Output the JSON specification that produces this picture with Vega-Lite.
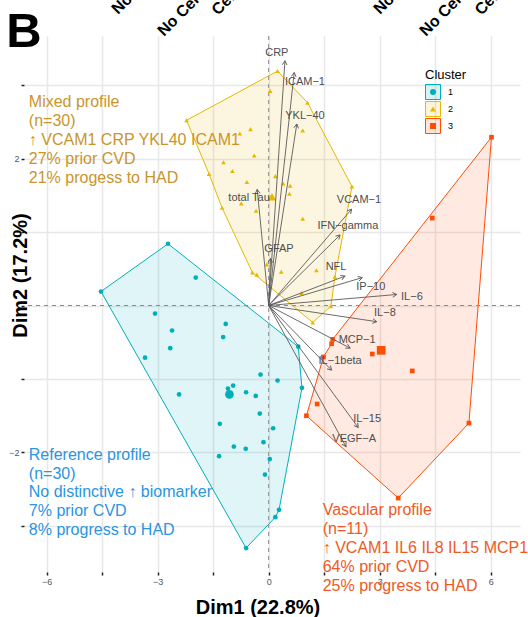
{
  "$schema": "https://vega.github.io/schema/vega-lite/v6.json",
  "width": 496,
  "height": 536,
  "autosize": "none",
  "padding": {"left": 24, "top": 36, "right": 8, "bottom": 45},
  "background": "white",
  "config": {"view": {"stroke": null}, "font": "Liberation Sans"},
  "datasets": {
    "one": [{"v": 0}],
    "pts": [
      {"cluster":"1","kind":"obs","x":-2.72,"y":0.84},
      {"cluster":"1","kind":"obs","x":-4.53,"y":0.19},
      {"cluster":"1","kind":"obs","x":-1.97,"y":0.38},
      {"cluster":"1","kind":"obs","x":-3.07,"y":-0.11},
      {"cluster":"1","kind":"obs","x":-2.61,"y":-0.34},
      {"cluster":"1","kind":"obs","x":-2.66,"y":-0.58},
      {"cluster":"1","kind":"obs","x":-3.34,"y":-0.71},
      {"cluster":"1","kind":"obs","x":-1.16,"y":-0.25},
      {"cluster":"1","kind":"obs","x":-1.23,"y":-0.43},
      {"cluster":"1","kind":"obs","x":0.80,"y":-0.56},
      {"cluster":"1","kind":"obs","x":0.90,"y":-1.12},
      {"cluster":"1","kind":"obs","x":-0.22,"y":-0.94},
      {"cluster":"1","kind":"obs","x":0.24,"y":-1.02},
      {"cluster":"1","kind":"obs","x":-1.10,"y":-1.13},
      {"cluster":"1","kind":"obs","x":-0.96,"y":-1.09},
      {"cluster":"1","kind":"obs","x":-0.61,"y":-1.18},
      {"cluster":"1","kind":"obs","x":-0.35,"y":-1.23},
      {"cluster":"1","kind":"obs","x":-2.42,"y":-1.21},
      {"cluster":"1","kind":"obs","x":-0.24,"y":-1.47},
      {"cluster":"1","kind":"obs","x":-1.32,"y":-1.61},
      {"cluster":"1","kind":"obs","x":0.12,"y":-1.67},
      {"cluster":"1","kind":"obs","x":-0.14,"y":-1.86},
      {"cluster":"1","kind":"obs","x":-0.94,"y":-1.92},
      {"cluster":"1","kind":"obs","x":-0.62,"y":-1.95},
      {"cluster":"1","kind":"obs","x":-1.34,"y":-2.05},
      {"cluster":"1","kind":"obs","x":0.03,"y":-2.09},
      {"cluster":"1","kind":"obs","x":-0.10,"y":-2.30},
      {"cluster":"1","kind":"obs","x":0.28,"y":-2.78},
      {"cluster":"1","kind":"obs","x":0.18,"y":-2.88},
      {"cluster":"1","kind":"obs","x":-0.61,"y":-3.30},
      {"cluster":"1","kind":"centroid","x":-1.06,"y":-1.21},
      {"cluster":"2","kind":"obs","x":0.24,"y":3.19},
      {"cluster":"2","kind":"obs","x":0.04,"y":2.92},
      {"cluster":"2","kind":"obs","x":1.05,"y":2.76},
      {"cluster":"2","kind":"obs","x":-2.22,"y":2.52},
      {"cluster":"2","kind":"obs","x":-0.49,"y":2.40},
      {"cluster":"2","kind":"obs","x":-0.78,"y":2.34},
      {"cluster":"2","kind":"obs","x":0.92,"y":2.38},
      {"cluster":"2","kind":"obs","x":-0.39,"y":2.04},
      {"cluster":"2","kind":"obs","x":-1.22,"y":1.95},
      {"cluster":"2","kind":"obs","x":-0.98,"y":1.83},
      {"cluster":"2","kind":"obs","x":-1.61,"y":1.79},
      {"cluster":"2","kind":"obs","x":0.18,"y":1.76},
      {"cluster":"2","kind":"obs","x":-0.59,"y":1.68},
      {"cluster":"2","kind":"obs","x":0.39,"y":1.66},
      {"cluster":"2","kind":"obs","x":0.58,"y":1.63},
      {"cluster":"2","kind":"obs","x":2.25,"y":1.62},
      {"cluster":"2","kind":"obs","x":0.56,"y":1.52},
      {"cluster":"2","kind":"obs","x":-0.74,"y":1.39},
      {"cluster":"2","kind":"obs","x":-1.26,"y":1.33},
      {"cluster":"2","kind":"obs","x":-0.34,"y":1.29},
      {"cluster":"2","kind":"obs","x":0.92,"y":1.18},
      {"cluster":"2","kind":"obs","x":-0.05,"y":0.56},
      {"cluster":"2","kind":"obs","x":-0.44,"y":0.45},
      {"cluster":"2","kind":"obs","x":-0.32,"y":0.42},
      {"cluster":"2","kind":"obs","x":0.34,"y":0.46},
      {"cluster":"2","kind":"obs","x":1.29,"y":0.48},
      {"cluster":"2","kind":"obs","x":1.79,"y":0.39},
      {"cluster":"2","kind":"obs","x":0.89,"y":0.17},
      {"cluster":"2","kind":"obs","x":1.68,"y":-0.01},
      {"cluster":"2","kind":"obs","x":1.19,"y":-0.23},
      {"cluster":"2","kind":"centroid","x":0.09,"y":1.48},
      {"cluster":"3","kind":"obs","x":6.02,"y":2.29},
      {"cluster":"3","kind":"obs","x":4.42,"y":1.19},
      {"cluster":"3","kind":"obs","x":1.73,"y":-0.46},
      {"cluster":"3","kind":"obs","x":1.70,"y":-0.52},
      {"cluster":"3","kind":"obs","x":2.80,"y":-0.66},
      {"cluster":"3","kind":"obs","x":1.48,"y":-0.70},
      {"cluster":"3","kind":"obs","x":3.88,"y":-0.89},
      {"cluster":"3","kind":"obs","x":1.31,"y":-1.34},
      {"cluster":"3","kind":"obs","x":1.02,"y":-1.50},
      {"cluster":"3","kind":"obs","x":5.41,"y":-1.60},
      {"cluster":"3","kind":"obs","x":3.50,"y":-2.62},
      {"cluster":"3","kind":"centroid","x":3.04,"y":-0.61}
    ],
    "hull": [
      {"grp":"1","ord":1,"x":-2.72,"y":0.84},
      {"grp":"1","ord":2,"x":0.80,"y":-0.56},
      {"grp":"1","ord":3,"x":0.90,"y":-1.12},
      {"grp":"1","ord":4,"x":0.28,"y":-2.78},
      {"grp":"1","ord":5,"x":0.18,"y":-2.88},
      {"grp":"1","ord":6,"x":-0.61,"y":-3.30},
      {"grp":"1","ord":7,"x":-4.53,"y":0.19},
      {"grp":"2","ord":1,"x":0.24,"y":3.19},
      {"grp":"2","ord":2,"x":1.05,"y":2.76},
      {"grp":"2","ord":3,"x":2.25,"y":1.62},
      {"grp":"2","ord":4,"x":1.79,"y":0.39},
      {"grp":"2","ord":5,"x":1.68,"y":-0.01},
      {"grp":"2","ord":6,"x":1.19,"y":-0.23},
      {"grp":"2","ord":7,"x":-0.44,"y":0.45},
      {"grp":"2","ord":8,"x":-1.26,"y":1.33},
      {"grp":"2","ord":9,"x":-1.61,"y":1.79},
      {"grp":"2","ord":10,"x":-2.22,"y":2.52},
      {"grp":"3","ord":1,"x":6.02,"y":2.29},
      {"grp":"3","ord":2,"x":5.41,"y":-1.60},
      {"grp":"3","ord":3,"x":3.50,"y":-2.62},
      {"grp":"3","ord":4,"x":1.02,"y":-1.50},
      {"grp":"3","ord":5,"x":1.48,"y":-0.70},
      {"grp":"3","ord":6,"x":1.70,"y":-0.52},
      {"grp":"3","ord":7,"x":1.73,"y":-0.46}
    ],
    "load": [
      {"var":"CRP","x":0.44,"y":3.33,"lx":0.22,"ly":3.44},
      {"var":"ICAM−1","x":0.69,"y":3.17,"lx":0.98,"ly":3.04},
      {"var":"YKL−40","x":0.76,"y":2.47,"lx":0.98,"ly":2.58},
      {"var":"total Tau","x":-0.31,"y":1.58,"lx":-0.53,"ly":1.46},
      {"var":"GFAP","x":0.05,"y":0.64,"lx":0.28,"ly":0.77},
      {"var":"VCAM−1","x":2.24,"y":1.31,"lx":2.44,"ly":1.44},
      {"var":"IFN−gamma","x":1.93,"y":0.96,"lx":2.14,"ly":1.08},
      {"var":"NFL","x":2.06,"y":0.40,"lx":1.82,"ly":0.52},
      {"var":"IP−10","x":2.53,"y":0.38,"lx":2.76,"ly":0.25},
      {"var":"IL−6","x":3.46,"y":0.15,"lx":3.87,"ly":0.12},
      {"var":"IL−8","x":2.92,"y":-0.22,"lx":3.14,"ly":-0.10},
      {"var":"MCP−1","x":2.20,"y":-0.58,"lx":2.39,"ly":-0.47},
      {"var":"IL−1beta","x":1.70,"y":-0.88,"lx":1.93,"ly":-0.76},
      {"var":"IL−15","x":2.42,"y":-1.66,"lx":2.66,"ly":-1.54},
      {"var":"VEGF−A","x":2.09,"y":-1.92,"lx":2.31,"ly":-1.81}
    ],
    "notes": [
      {"cluster":"2","x":-6.48,"y":2.707,"label":"Mixed profile\n(n=30)\n↑ VCAM1 CRP YKL40 ICAM1\n27% prior CVD\n21% progess to HAD"},
      {"cluster":"1","x":-6.48,"y":-2.099,"label":"Reference profile\n(n=30)\nNo distinctive ↑ biomarker\n7% prior CVD\n8% progress to HAD"},
      {"cluster":"3","x":1.46,"y":-2.857,"label":"Vascular profile\n(n=11)\n↑ VCAM1 IL6 IL8 IL15 MCP1\n64% prior CVD\n25% progress to HAD"}
    ],
    "top": [
      {"x":-4.07,"y":3.952,"label":"No CVD"},
      {"x":-2.83,"y":3.653,"label":"No Cerebrovascular"},
      {"x":-1.37,"y":3.939,"label":"Cerebrovascular"},
      {"x":3.01,"y":3.952,"label":"No CVD"},
      {"x":4.25,"y":3.653,"label":"No Cerebrovascular"},
      {"x":5.74,"y":3.939,"label":"Cerebrovascular"}
    ],
    "panel": [{"x":-7.09,"y":3.517,"label":"B"}]
  },
  "layer": [
    {
      "data": {"name": "hull"},
      "mark": {"type": "line", "interpolate": "linear-closed", "fillOpacity": 0.12, "strokeWidth": 1},
      "encoding": {
        "x": {"field": "x", "type": "quantitative",
          "scale": {"domain": [-6.61, 6.79], "nice": false, "zero": false},
          "axis": {"title": "Dim1 (22.8%)", "values": [-6, -4.5, -3, -1.5, 0, 1.5, 3, 4.5, 6],
            "grid": true, "gridColor": "#E8E8E8", "gridWidth": 1.5, "domain": false,
            "tickSize": 3, "tickWidth": 1.5, "tickColor": "#222",
            "labelExpr": "datum.value % 3 === 0 ? datum.label : ''",
            "labelFontSize": 9, "labelColor": "#555555", "labelPadding": 2, "labelFont": "Liberation Sans",
            "titleFontSize": 20, "titleFontWeight": "bold", "titleColor": "black", "titleFont": "Liberation Sans",
            "titleX": 233.5, "titleY": 41, "titleBaseline": "alphabetic", "titleAlign": "center"}},
        "y": {"field": "y", "type": "quantitative",
          "scale": {"domain": [-3.626, 3.667], "nice": false, "zero": false},
          "axis": {"title": "Dim2 (17.2%)", "values": [-3, -2, -1, 0, 1, 2, 3], "format": "d",
            "grid": true, "gridColor": "#E8E8E8", "gridWidth": 1.5, "domain": false,
            "tickSize": 3, "tickWidth": 1.5, "tickColor": "#222",
            "labelExpr": "abs(datum.value) === 2 ? datum.label : ''",
            "labelFontSize": 9, "labelColor": "#555555", "labelPadding": 2, "labelFont": "Liberation Sans",
            "titleFontSize": 20, "titleFontWeight": "bold", "titleColor": "black", "titleFont": "Liberation Sans",
            "titleAngle": -90, "titleX": 2.5, "titleY": 239, "titleBaseline": "alphabetic", "titleAlign": "center"}},
        "order": {"field": "ord", "type": "quantitative"},
        "fill": {"field": "grp", "type": "nominal",
          "scale": {"range": ["#00AFBB", "#E7B800", "#FC4E07"]},
          "legend": {"orient": "none", "legendX": 401, "legendY": 33, "title": "Cluster",
            "titleFontSize": 13, "titleFontWeight": "normal", "titleColor": "black", "titlePadding": 2,
            "symbolType": "square", "symbolSize": 225, "symbolStrokeWidth": 1, "clipHeight": 16,
            "labelFontSize": 9, "labelColor": "black", "labelOffset": 7, "rowPadding": 1, "padding": 0,
            "encode": {"symbols": {"update": {"fillOpacity": {"value": 0.15}}}}}},
        "stroke": {"field": "grp", "type": "nominal",
          "scale": {"range": ["#00AFBB", "#E7B800", "#FC4E07"]},
          "legend": {"orient": "none", "legendX": 401, "legendY": 33, "title": "Cluster",
            "titleFontSize": 13, "titleFontWeight": "normal", "titleColor": "black", "titlePadding": 2,
            "symbolType": "square", "symbolSize": 225, "symbolStrokeWidth": 1, "clipHeight": 16,
            "labelFontSize": 9, "labelColor": "black", "labelOffset": 7, "rowPadding": 1, "padding": 0,
            "encode": {"symbols": {"update": {"fillOpacity": {"value": 0.15}}}}}}
      }
    },
    {
      "data": {"name": "one"},
      "mark": {"type": "rule", "strokeDash": [4, 4], "color": "#8C8C8C", "strokeWidth": 1},
      "encoding": {"x": {"datum": 0, "type": "quantitative"}}
    },
    {
      "data": {"name": "one"},
      "mark": {"type": "rule", "strokeDash": [4, 4], "color": "#8C8C8C", "strokeWidth": 1},
      "encoding": {"y": {"datum": 0, "type": "quantitative"}}
    },
    {
      "data": {"name": "pts"},
      "mark": {"type": "point", "filled": true, "opacity": 1},
      "encoding": {
        "x": {"field": "x", "type": "quantitative"},
        "y": {"field": "y", "type": "quantitative"},
        "color": {"field": "cluster", "type": "nominal",
          "scale": {"domain": ["1", "2", "3"], "range": ["#00AFBB", "#E7B800", "#FC4E07"]},
          "legend": {"orient": "none", "legendX": 401, "legendY": 33, "title": "Cluster",
            "titleFontSize": 13, "titleFontWeight": "normal", "titleOpacity": 0, "titlePadding": 2,
            "symbolSize": 36, "symbolOffset": 3.5, "clipHeight": 16,
            "labelFontSize": 9, "labelOpacity": 0, "labelOffset": 7,
            "rowPadding": 1, "padding": 0}},
        "shape": {"field": "cluster", "type": "nominal",
          "scale": {"domain": ["1", "2", "3"], "range": ["circle", "triangle-up", "square"]},
          "legend": {"orient": "none", "legendX": 401, "legendY": 33, "title": "Cluster",
            "titleFontSize": 13, "titleFontWeight": "normal", "titleOpacity": 0, "titlePadding": 2,
            "symbolSize": 36, "symbolOffset": 3.5, "clipHeight": 16,
            "labelFontSize": 9, "labelOpacity": 0, "labelOffset": 7,
            "rowPadding": 1, "padding": 0}},
        "size": {"field": "kind", "type": "ordinal",
          "scale": {"domain": ["obs", "centroid"], "range": [22, 75]}, "legend": null}
      }
    },
    {
      "data": {"name": "load"},
      "mark": {"type": "rule", "color": "#5A5A5A", "strokeWidth": 0.9},
      "encoding": {
        "x": {"field": "x", "type": "quantitative"},
        "y": {"field": "y", "type": "quantitative"},
        "x2": {"datum": 0},
        "y2": {"datum": 0}
      }
    },
    {
      "data": {"name": "load"},
      "transform": [{"calculate": "atan2(datum.x * 37, datum.y * 73.5) * 180 / PI", "as": "ang"}],
      "mark": {"type": "point", "shape": "M-0.5,0.87L0,0L0.5,0.87", "filled": false, "stroke": "#5A5A5A", "strokeWidth": 0.9, "size": 90, "opacity": 1},
      "encoding": {
        "x": {"field": "x", "type": "quantitative"},
        "y": {"field": "y", "type": "quantitative"},
        "angle": {"field": "ang", "type": "quantitative", "scale": null}
      }
    },
    {
      "data": {"name": "load"},
      "mark": {"type": "text", "fontSize": 11, "color": "#4D4D4D", "align": "center", "baseline": "middle", "font": "Liberation Sans"},
      "encoding": {
        "x": {"field": "lx", "type": "quantitative"},
        "y": {"field": "ly", "type": "quantitative"},
        "text": {"field": "var"}
      }
    },
    {
      "data": {"name": "notes"},
      "transform": [{"filter": "datum.cluster === '2'"}],
      "mark": {"type": "text", "fontSize": 16, "lineHeight": 19.2, "lineBreak": "\n", "align": "left", "baseline": "alphabetic", "color": "#C9952B", "font": "Liberation Sans"},
      "encoding": {"x": {"field": "x", "type": "quantitative"}, "y": {"field": "y", "type": "quantitative"}, "text": {"field": "label"}}
    },
    {
      "data": {"name": "notes"},
      "transform": [{"filter": "datum.cluster === '1'"}],
      "mark": {"type": "text", "fontSize": 16, "lineHeight": 18.8, "lineBreak": "\n", "align": "left", "baseline": "alphabetic", "color": "#2A95E0", "font": "Liberation Sans"},
      "encoding": {"x": {"field": "x", "type": "quantitative"}, "y": {"field": "y", "type": "quantitative"}, "text": {"field": "label"}}
    },
    {
      "data": {"name": "notes"},
      "transform": [{"filter": "datum.cluster === '3'"}],
      "mark": {"type": "text", "fontSize": 16, "lineHeight": 18.9, "lineBreak": "\n", "align": "left", "baseline": "alphabetic", "color": "#EE5A24", "font": "Liberation Sans"},
      "encoding": {"x": {"field": "x", "type": "quantitative"}, "y": {"field": "y", "type": "quantitative"}, "text": {"field": "label"}}
    },
    {
      "data": {"name": "top"},
      "mark": {"type": "text", "fontSize": 16, "fontWeight": "bold", "angle": -45, "align": "left", "baseline": "alphabetic", "color": "black", "font": "Liberation Sans"},
      "encoding": {"x": {"field": "x", "type": "quantitative"}, "y": {"field": "y", "type": "quantitative"}, "text": {"field": "label"}}
    },
    {
      "data": {"name": "panel"},
      "mark": {"type": "text", "fontSize": 49, "fontWeight": "bold", "align": "left", "baseline": "alphabetic", "color": "black", "font": "Liberation Sans"},
      "encoding": {"x": {"field": "x", "type": "quantitative"}, "y": {"field": "y", "type": "quantitative"}, "text": {"field": "label"}}
    }
  ]
}
